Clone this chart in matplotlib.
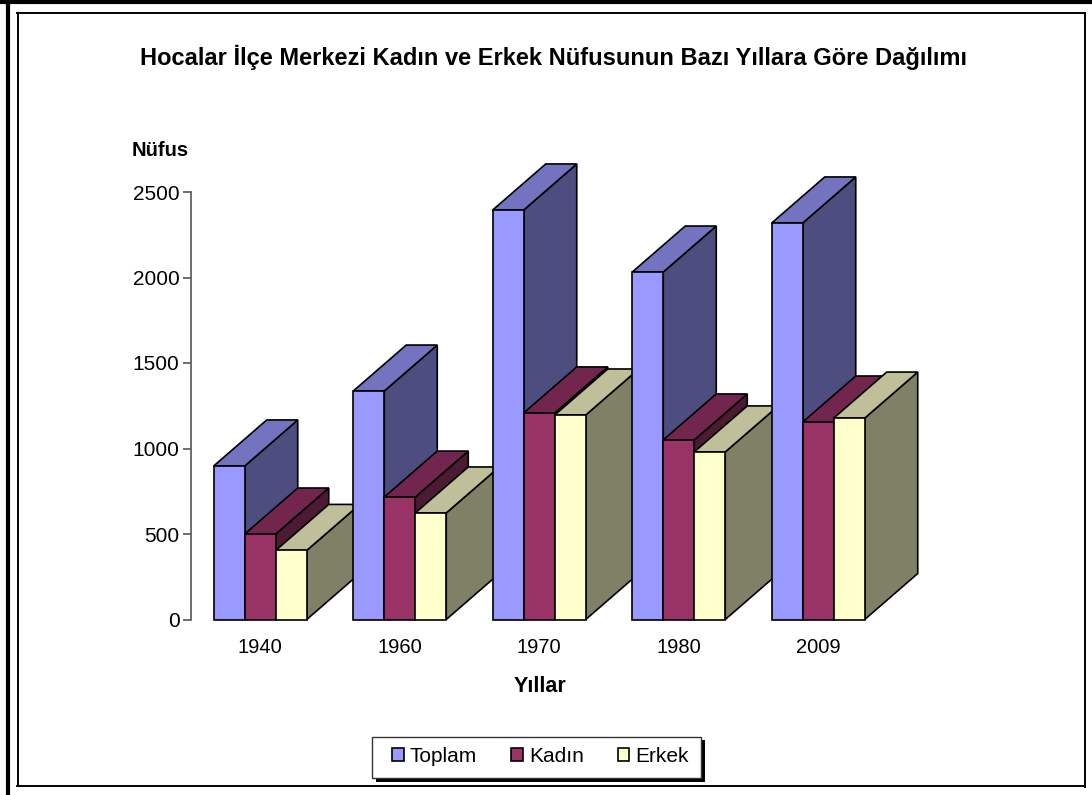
import matplotlib
matplotlib.use('Agg')
import matplotlib.pyplot as plt
from matplotlib.lines import Line2D
from matplotlib.patches import Patch, Rectangle

plt.rcParams['font.family'] = ['Liberation Sans', 'DejaVu Sans']

W, H = 1092, 795

years = ['1940', '1960', '1970', '1980', '2009']
toplam = [898, 1336, 2395, 2032, 2319]
kadin = [500, 716, 1208, 1050, 1155]
erkek = [404, 623, 1196, 980, 1178]

series_names = ['Toplam', 'Kadın', 'Erkek']
series_colors = ['#9999FF', '#993366', '#FFFFCC']
yticks = [0, 500, 1000, 1500, 2000, 2500]


def px(x, y):
    # piksel koordinatini figure koordinatina cevir
    return x / W, 1 - y / H


def shade(color, k):
    rgb = matplotlib.colors.to_rgb(color)
    return tuple(c * k for c in rgb)


def box(x0, y0, x1, y1, **kw):
    fig.add_artist(Rectangle(px(x0, y1), (x1 - x0) / W, (y1 - y0) / H,
                             transform=fig.transFigure, **kw))


fig = plt.figure(figsize=(W / 100, H / 100), dpi=100)

# dis cerceve
for xs, ys, lw in [((8, 8), (0, 795), 3.0),
                   ((0, 1092), (2, 2), 3.0),
                   ((17.5, 17.5), (13, 786), 1.4),
                   ((17, 1084.5), (13, 13), 1.4),
                   ((1084.5, 1084.5), (13, 787), 1.4),
                   ((17, 1085), (786, 786), 1.4)]:
    fig.add_artist(Line2D([xs[0] / W, xs[1] / W], [1 - ys[0] / H, 1 - ys[1] / H],
                          color='black', lw=lw))

ax = fig.add_axes([190.5 / W, 1 - 619.5 / H, 697.5 / W, 427.5 / H])
ax.set_xlim(-0.5, 4.5)
ax.set_ylim(0, 2500)
ax.patch.set_visible(False)

width = 93 / 3 / 139.5
depth_x = 53 / 139.5
depth_y = 46 / (427.5 / 2500)
edge = dict(edgecolor='black', linewidth=1.2, clip_on=False)

for i in range(len(years)):
    values = [toplam[i], kadin[i], erkek[i]]
    for j in range(3):
        left = i + (j - 1.5) * width
        right = left + width
        v = values[j]
        c = series_colors[j]
        z = 2 + i * 3 + j
        # sag yuz
        ax.fill([right, right + depth_x, right + depth_x, right],
                [0, depth_y, v + depth_y, v],
                facecolor=shade(c, 0.5), zorder=z, **edge)
        # ust yuz
        ax.fill([left, left + depth_x, right + depth_x, right],
                [v, v + depth_y, v + depth_y, v],
                facecolor=shade(c, 0.75), zorder=z, **edge)
        # on yuz
        ax.bar(left, v, width, align='edge', color=c, zorder=z, **edge)

ax.set_xticks(range(len(years)))
ax.set_xticklabels(years)
ax.set_yticks(yticks)
ax.tick_params(axis='y', length=6, width=1.2, color='#555555', labelsize=15, pad=2)
ax.tick_params(axis='x', length=0, labelsize=14.5, pad=13)
for s in ['top', 'right', 'bottom']:
    ax.spines[s].set_visible(False)
ax.spines['left'].set_color('#555555')
ax.spines['left'].set_linewidth(1.2)

x, y = px(553, 57)
fig.text(x, y, 'Hocalar İlçe Merkezi Kadın ve Erkek Nüfusunun Bazı Yıllara Göre Dağılımı',
         ha='center', va='center', fontsize=17, fontweight='bold')
x, y = px(160, 150)
fig.text(x, y, 'Nüfus', ha='center', va='center', fontsize=14.5, fontweight='bold')
x, y = px(540, 687)
fig.text(x, y, 'Yıllar', ha='center', va='center', fontsize=15.5, fontweight='bold')

# lejant kutusu ve golgesi
box(376, 740, 705, 782, facecolor='black', edgecolor='black', lw=0)
box(372, 737, 701, 778, facecolor='white', edgecolor='#333333', lw=1.0)

handles = [Patch(facecolor=c, edgecolor='black', linewidth=1.2) for c in series_colors]
leg = fig.legend(handles, series_names, loc='center', bbox_to_anchor=px(540.5, 756.5),
                 ncols=3, fontsize=15, frameon=False, handlelength=0.56, handleheight=0.56,
                 handletextpad=0.3, columnspacing=1.63, borderpad=0, borderaxespad=0)

fig.savefig('out.png', dpi=100)
